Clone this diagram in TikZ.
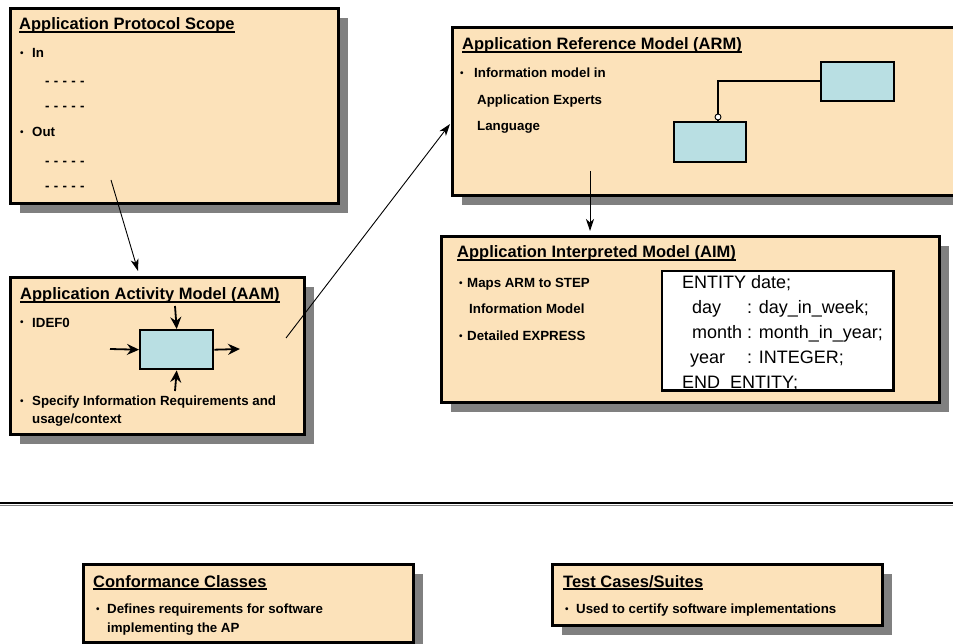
\documentclass[tikz,border=0pt]{standalone}
\usepackage{fontspec}
\setmainfont{Liberation Sans}
\usetikzlibrary{arrows.meta,shadows}
\definecolor{peach}{RGB}{252,226,186}
\definecolor{lcyan}{RGB}{185,223,227}
\definecolor{shgray}{RGB}{128,128,128}
\newcommand\ulin[1]{\setbox0\hbox{#1}\rlap{\rule[-2.8pt]{\wd0}{1.4pt}}\box0}
\newcommand\dashrow{-\hspace{4.3pt}-\hspace{4.3pt}-\hspace{4.3pt}-\hspace{4.3pt}-}
\begin{document}
\begin{tikzpicture}[x=1pt,y=-1pt,
  panel/.style={draw, line width=2.6pt, fill=peach, rectangle, inner sep=0pt, anchor=north west,
    general shadow={fill=shgray, shadow xshift=10pt, shadow yshift=-10pt}},
  ent/.style={draw, line width=2.4pt, fill=lcyan, rectangle, inner sep=0pt, anchor=north west},
  ttl/.style={anchor=base west, inner sep=0pt, font=\fontsize{16.5}{18}\selectfont\bfseries},
  itm/.style={anchor=base west, inner sep=0pt, font=\fontsize{13.3}{15}\selectfont\bfseries},
  bul/.style={anchor=base west, inner sep=0pt, font=\fontsize{10}{12}\selectfont\bfseries},
  code/.style={anchor=base west, inner sep=0pt, font=\fontsize{18}{20}\selectfont},
  conn/.style={line width=0.9pt, -{Stealth[length=12pt,width=8pt,inset=3.5pt]}},
  idef/.style={line width=1.8pt, -{Stealth[length=12pt,width=11pt,inset=4pt]}}
]
\useasboundingbox (0,0) rectangle (953,644);

% ---------- Application Protocol Scope ----------
\node[panel, minimum width=328pt, minimum height=195pt] (aps) at (9,7) {};
\node[ttl] (apsT) at (19,30) {\ulin{Application Protocol Scope}};
\node[bul] (apsB1) at (20,57) {•};
\node[itm] (apsI1) at (32,58) {In};
\node[itm] (apsD1) at (45,86) {\dashrow};
\node[itm] (apsD2) at (45,111) {\dashrow};
\node[bul] (apsB2) at (20,136) {•};
\node[itm] (apsI2) at (32,137) {Out};
\node[itm] (apsD3) at (45,166) {\dashrow};
\node[itm] (apsD4) at (45,191) {\dashrow};

% ---------- Application Activity Model ----------
\node[panel, minimum width=294pt, minimum height=157pt] (aam) at (9,276) {};
\node[ttl] (aamT) at (20,300) {\ulin{Application Activity Model (AAM)}};
\node[bul] (aamB1) at (20,326) {•};
\node[itm] (aamI1) at (32,327) {IDEF0};
\node[bul] (aamB2) at (20,404) {•};
\node[itm] (aamI2) at (32,405) {Specify Information Requirements and};
\node[itm] (aamI3) at (32,423) {usage/context};
\node[ent, minimum width=73pt, minimum height=39pt] (act) at (139,329) {};
\coordinate (actIn) at (110,349);
\coordinate (actOut) at (240,349);
\coordinate (actCtl) at (175,306);
\coordinate (actMech) at (175,391);
\draw[idef] (actIn) -- (act.west);
\draw[idef] (act.east) -- (actOut);
\draw[idef] (actCtl) -- (act.north);
\draw[idef] (actMech) -- (act.south);

% ---------- Application Reference Model ----------
\node[panel, minimum width=520pt, minimum height=168pt] (arm) at (451,26) {};
\node[ttl] (armT) at (462,50) {\ulin{Application Reference Model (ARM)}};
\node[bul] (armB1) at (460,77) {•};
\node[itm] (armI1) at (474,78) {Information model in};
\node[itm] (armI2) at (477,105) {Application Experts};
\node[itm] (armI3) at (477,131) {Language};
\node[ent, minimum width=73pt, minimum height=39pt] (entA) at (820,61) {};
\node[ent, minimum width=72pt, minimum height=40pt] (entB) at (673,121) {};
\coordinate (bend) at (718,81);
\draw[line width=1.6pt] (entA.west |- bend) -- (bend) -- (bend |- entB.north);
\node[circle, draw, line width=0.9pt, fill=white, inner sep=0pt, minimum size=6pt] (rc) at (718,117) {};

% ---------- Application Interpreted Model ----------
\node[panel, minimum width=498pt, minimum height=166pt] (aim) at (440,235) {};
\node[ttl] (aimT) at (457,258) {\ulin{Application Interpreted Model (AIM)}};
\node[bul] (aimB1) at (459,287) {•};
\node[itm] (aimI1) at (467,288) {Maps ARM to STEP};
\node[itm] (aimI2) at (469,314) {Information Model};
\node[bul] (aimB2) at (459,339) {•};
\node[itm] (aimI3) at (467,340) {Detailed EXPRESS};
\node[rectangle, fill=white, inner sep=0pt, anchor=north west, minimum width=231pt, minimum height=119pt] (cbox) at (662,271) {};
\begin{scope}
\clip (cbox.north west) rectangle (cbox.south east);
\node[code] (c1) at (682,289) {ENTITY date;};
\node[code] (c2a) at (692,314) {day};
\node[code] (c2b) at (747,314) {: day\_in\_week;};
\node[code] (c3a) at (692,338) {month};
\node[code] (c3b) at (747,338) {: month\_in\_year;};
\node[code] (c4a) at (690,363) {year};
\node[code] (c4b) at (747,363) {: INTEGER;};
\node[code] (c5) at (682,388) {END\_ENTITY;};
\end{scope}
\draw[line width=2.6pt] (cbox.north west) rectangle (cbox.south east);

% ---------- connectors ----------
\coordinate (s1) at (111,180);
\coordinate (e1) at (138,271);
\draw[conn] (s1) -- (e1);
\coordinate (s2) at (286,338);
\coordinate (e2) at (450,124);
\draw[conn] (s2) -- (e2);
\coordinate (s3) at (590,171);
\coordinate (e3) at (590,231);
\draw[conn] (s3) -- (e3);

% ---------- separator ----------
\coordinate (sepL) at (0,503);
\coordinate (sepR) at (953,503);
\draw[shgray, line width=1.4pt] ([yshift=-2.2pt]sepL) -- ([yshift=-2.2pt]sepR);
\draw[line width=2.6pt] (sepL) -- (sepR);

% ---------- Conformance Classes ----------
\node[panel, minimum width=330pt, minimum height=78pt] (cc) at (82,563) {};
\node[ttl] (ccT) at (93,587) {\ulin{Conformance Classes}};
\node[bul] (ccB1) at (96,612) {•};
\node[itm] (ccI1) at (107,613) {Defines requirements for software};
\node[itm] (ccI2) at (107,632) {implementing the AP};

% ---------- Test Cases/Suites ----------
\node[panel, minimum width=330pt, minimum height=61pt] (tc) at (551,563) {};
\node[ttl] (tcT) at (563,587) {\ulin{Test Cases/Suites}};
\node[bul] (tcB1) at (565,612) {•};
\node[itm] (tcI1) at (576,613) {Used to certify software implementations};
\end{tikzpicture}
\end{document}
